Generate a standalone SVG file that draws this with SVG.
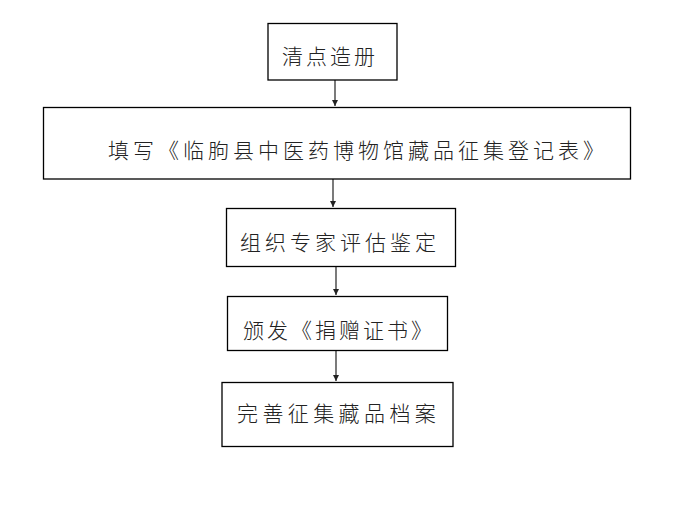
<svg xmlns="http://www.w3.org/2000/svg" width="682" height="526" viewBox="0 0 682 526">
<style>
.box{fill:#fff;stroke:#000;stroke-width:1.3}
.t{font-family:"Noto Sans CJK SC","Noto Sans CJK JP",sans-serif;font-size:21px;fill:#222;font-weight:300}
.c{stroke:#222;stroke-width:1.2;fill:none}
</style>
<defs>
<marker id="a" markerWidth="8" markerHeight="8" refX="6" refY="3" orient="auto" markerUnits="userSpaceOnUse">
<path d="M0,0 L6,3 L0,6 Z" fill="#222"/>
</marker>
</defs>
<rect width="682" height="526" fill="#fff"/>
<g id="connectors">
<line class="c" x1="335" y1="80" x2="335" y2="106" marker-end="url(#a)"/>
<line class="c" x1="333" y1="179" x2="333" y2="207" marker-end="url(#a)" stroke="#444"/>
<line class="c" x1="336" y1="267" x2="336" y2="295" marker-end="url(#a)"/>
<line class="c" x1="336" y1="351" x2="336" y2="381" marker-end="url(#a)"/>
</g>
<g id="n1"><rect class="box" x="268" y="23.5" width="129" height="56.5"/><text class="t" x="282" y="64" letter-spacing="3">清点造册</text></g>
<g id="n2"><rect class="box" x="43.5" y="107.5" width="587" height="71.5"/><text class="t" x="108" y="157.5" letter-spacing="4">填写《临朐县中医药博物馆藏品征集登记表》</text></g>
<g id="n3"><rect class="box" x="226.5" y="208.5" width="229" height="58"/><text class="t" x="240" y="249.5" letter-spacing="4">组织专家评估鉴定</text></g>
<g id="n4"><rect class="box" x="227.5" y="296.5" width="220" height="54"/><text class="t" x="243" y="337.5" letter-spacing="3">颁发《捐赠证书》</text></g>
<g id="n5"><rect class="box" x="222" y="382.5" width="231" height="64"/><text class="t" x="237" y="420.5" letter-spacing="4.4">完善征集藏品档案</text></g>
</svg>
